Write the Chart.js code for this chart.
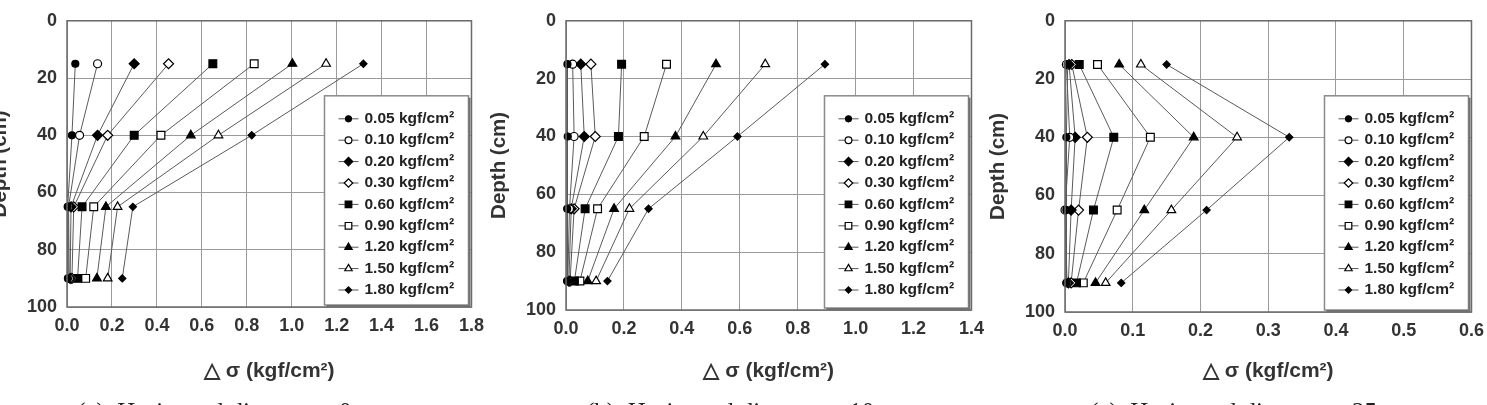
<!DOCTYPE html>
<html>
<head>
<meta charset="utf-8">
<script src="https://cdn.jsdelivr.net/npm/chart.js@4.4.0/dist/chart.umd.min.js"></script>
<style>
  html, body { margin: 0; padding: 0; background: #fff; overflow: hidden; width: 1487px; height: 405px; }
  canvas { position: absolute; top: 0; }
  .cap { position: absolute; top: 399px; font-family: "Liberation Serif", "DejaVu Serif", serif;
         font-size: 25px; line-height: 25px; color: #222; white-space: nowrap; }
</style>
</head>
<body>
<canvas id="ca"></canvas>
<canvas id="cb"></canvas>
<canvas id="cc"></canvas>
<div class="cap" style="left:77px">(a)&nbsp; Horizontal distance = 0 cm</div>
<div class="cap" style="left:586px">(b)&nbsp; Horizontal distance = 10 cm</div>
<div class="cap" style="left:1090px">(c)&nbsp; Horizontal distance = 25 cm</div>
<script>
// depth of each measuring point (cm)
var depths = [15, 40, 65, 90];
// surcharge pressures (kgf/cm2)
var loads = ['0.05', '0.10', '0.20', '0.30', '0.60', '0.90', '1.20', '1.50', '1.80'];

// delta sigma at depths 15, 40, 65, 90 -- one row per load
// (a) horizontal distance = 0
var distA = [
  [0.037, 0.022, 0.003, 0.004],
  [0.136, 0.056, 0.007, 0.010],
  [0.299, 0.136, 0.018, 0.014],
  [0.452, 0.181, 0.030, 0.022],
  [0.649, 0.299, 0.067, 0.047],
  [0.833, 0.418, 0.119, 0.083],
  [1.003, 0.551, 0.173, 0.133],
  [1.153, 0.674, 0.225, 0.181],
  [1.319, 0.822, 0.293, 0.246]
];
// (b) horizontal distance = 10
var distB = [
  [0.005, 0.006, 0.004, 0.004],
  [0.023, 0.028, 0.012, 0.006],
  [0.051, 0.063, 0.018, 0.010],
  [0.086, 0.101, 0.028, 0.014],
  [0.192, 0.181, 0.066, 0.029],
  [0.347, 0.270, 0.109, 0.048],
  [0.518, 0.378, 0.166, 0.075],
  [0.688, 0.474, 0.219, 0.104],
  [0.894, 0.592, 0.285, 0.143]
];
// (c) horizontal distance = 25
var distC = [
  [0.004, 0.002, 0.002, 0.002],
  [0.002, 0.007, 0.000, 0.003],
  [0.006, 0.015, 0.009, 0.005],
  [0.010, 0.033, 0.020, 0.009],
  [0.021, 0.072, 0.042, 0.017],
  [0.048, 0.126, 0.077, 0.027],
  [0.080, 0.190, 0.117, 0.045],
  [0.112, 0.254, 0.157, 0.060],
  [0.150, 0.331, 0.209, 0.083]
];

var xMaxA = 1.8, xMaxB = 1.4, xMaxC = 0.6;
var xStepA = 0.2, xStepB = 0.2, xStepC = 0.1;

// marker for each load: style, radius, filled?
var markers = [
  ['circle', 3.5, true],
  ['circle', 4, false],
  ['rectRot', 5, true],
  ['rectRot', 5, false],
  ['rect', 5.5, true],
  ['rect', 5.5, false],
  ['triangle', 5, true],
  ['triangle', 5, false],
  ['rectRot', 3.6, true]
];

var FONT = '"Liberation Sans", Arial, sans-serif';

// frame of plot area + legend box inside lower right
var boxLegend = {
  id: 'boxLegend',
  afterDatasetsDraw: function(chart) {
    var ctx = chart.ctx, a = chart.chartArea;
    ctx.save();
    ctx.strokeStyle = '#6a6a6a';
    ctx.lineWidth = 1.5;
    ctx.strokeRect(a.left, a.top, a.right - a.left, a.bottom - a.top);

    var bx = a.right - 147, by = a.top + 75, bw = 144, bh = a.bottom - 2 - by;
    ctx.fillStyle = '#fff';
    ctx.fillRect(bx, by, bw, bh);
    ctx.strokeStyle = '#8a8a8a';
    ctx.lineWidth = 1.5;
    ctx.strokeRect(bx, by, bw, bh);
    ctx.strokeStyle = '#707070';
    ctx.lineWidth = 2;
    ctx.beginPath();
    ctx.moveTo(bx + bw + 1, by + 2);
    ctx.lineTo(bx + bw + 1, by + bh + 1);
    ctx.lineTo(bx + 2, by + bh + 1);
    ctx.stroke();

    ctx.font = 'bold 15.5px ' + FONT;
    ctx.textBaseline = 'middle';
    ctx.textAlign = 'left';
    chart.data.datasets.forEach(function(ds, i) {
      var y = by + 23 + i * 21.4;
      ctx.strokeStyle = '#555';
      ctx.lineWidth = 1;
      ctx.beginPath();
      ctx.moveTo(bx + 14, y);
      ctx.lineTo(bx + 34, y);
      ctx.stroke();
      ctx.fillStyle = ds.pointBackgroundColor;
      ctx.strokeStyle = '#000';
      ctx.lineWidth = 1.2;
      Chart.helpers.drawPoint(ctx, {
        pointStyle: ds.pointStyle, radius: ds.pointRadius * 0.85, borderWidth: 1.2, rotation: 0
      }, bx + 24, y);
      ctx.fillStyle = '#222';
      ctx.fillText(ds.label, bx + 40, y);
    });
    ctx.restore();
  }
};

function makeChart(id, rows, xMax, xStep, plotLeft, plotRight, plotTop, plotBottom) {
  var cv = document.getElementById(id);
  cv.width = 80 + (plotRight - plotLeft) + 20;
  cv.height = 405;
  cv.style.left = (plotLeft - 80) + 'px';

  var datasets = [];
  for (var i = 0; i < loads.length; i++) {
    var pts = [];
    for (var j = 0; j < depths.length; j++) {
      pts.push({ x: rows[i][j], y: depths[j] });
    }
    var m = markers[i];
    datasets.push({
      label: loads[i] + ' kgf/cm\u00b2',
      data: pts,
      showLine: true,
      borderColor: '#5a5a5a',
      borderWidth: 1,
      pointStyle: m[0],
      pointRadius: m[1],
      pointBackgroundColor: m[2] ? '#000' : '#fff',
      pointBorderColor: '#000',
      pointBorderWidth: 1.2,
      clip: 10
    });
  }

  var tickFont = { family: FONT, weight: 'bold', size: 18 };

  return new Chart(cv, {
    type: 'scatter',
    data: { datasets: datasets },
    options: {
      responsive: false,
      animation: false,
      devicePixelRatio: 1,
      layout: { padding: { top: plotTop, right: 20, left: 0, bottom: 0 } },
      plugins: { legend: { display: false }, tooltip: { enabled: false } },
      scales: {
        x: {
          type: 'linear', min: 0, max: xMax,
          grid: { color: '#9a9a9a', lineWidth: 1, drawTicks: false },
          border: { display: false },
          ticks: {
            stepSize: xStep, padding: 8, color: '#333', font: tickFont,
            callback: function(v) { return v.toFixed(1); }
          },
          title: {
            display: true, text: '\u25b3 \u03c3 (kgf/cm\u00b2)', color: '#333',
            font: { family: FONT, weight: 'bold', size: 21 },
            padding: { top: 0, bottom: 21 }
          },
          afterFit: function(s) { s.height = 405 - plotBottom; }
        },
        y: {
          type: 'linear', reverse: true, min: 0, max: 100,
          grid: { color: '#9a9a9a', lineWidth: 1, drawTicks: false },
          border: { display: false },
          ticks: { stepSize: 20, padding: 10, color: '#333', font: tickFont },
          title: {
            display: true, text: 'Depth (cm)', color: '#333',
            font: { family: FONT, weight: 'bold', size: 20.5 },
            padding: { top: 1, bottom: 0 }
          },
          afterFit: function(s) { s.width = 80; }
        }
      }
    },
    plugins: [boxLegend]
  });
}

makeChart('ca', distA, xMaxA, xStepA, 67, 472, 13, 307);
makeChart('cb', distB, xMaxB, xStepB, 566, 972, 15, 310);
makeChart('cc', distC, xMaxC, xStepC, 1065, 1472, 16, 312);
</script>
</body>
</html>
